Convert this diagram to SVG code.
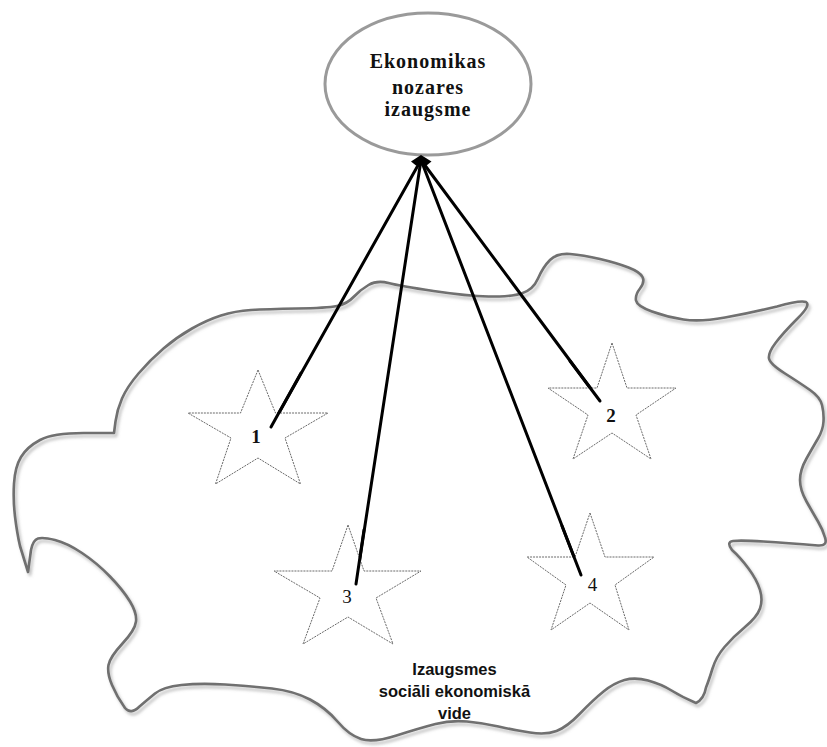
<svg xmlns="http://www.w3.org/2000/svg" width="827" height="747" viewBox="0 0 827 747">
  <style>
    .blob { fill: none; stroke: #6f6f6f; stroke-width: 2.6; stroke-linejoin: round; }
    .star { fill: #ffffff; stroke: #6a6a6a; stroke-width: 1; stroke-dasharray: 2 1; }
    .link { stroke: #000000; stroke-width: 3; fill: none; stroke-linecap: round; }
    .goal-text { font-family: "Liberation Serif", "Times New Roman", serif; font-weight: bold; font-size: 20px; letter-spacing: 1px; fill: #111111; text-anchor: middle; }
    .num-b { font-family: "Liberation Serif", "Times New Roman", serif; font-weight: bold; font-size: 19px; fill: #111111; text-anchor: middle; }
    .num { font-family: "Liberation Serif", "Times New Roman", serif; font-size: 19px; fill: #111111; text-anchor: middle; }
    .env-text { font-family: "Liberation Sans", Arial, sans-serif; font-weight: bold; font-size: 16.5px; fill: #111111; text-anchor: middle; }
  </style>
  <defs>
    <filter id="soft-shadow" x="-5%" y="-5%" width="110%" height="110%">
      <feDropShadow dx="2" dy="3" stdDeviation="1.6" flood-color="#8c8c8c" flood-opacity="0.55"/>
    </filter>
  </defs>

  <rect x="0" y="0" width="827" height="747" fill="#ffffff"/>

  <!-- surrounding environment outline -->
  <g id="environment">
    <path class="blob" filter="url(#soft-shadow)" d="
      M 114 433 L 115.5 421.5
      Q 117 410 122 398.5 Q 127 387 138.5 373.5 Q 150 360 163.5 348.5 Q 177 337 192 328.5
      Q 207 320 221 315.5 Q 235 311 251 310 Q 267 309 297 308.5 Q 327 308 337 306
      Q 347 304 353.5 297 Q 360 290 368.5 285 Q 377 280 388.5 283 Q 400 286 433.5 291
      Q 467 296 488.5 296.5 Q 510 297 521.5 293.5 Q 533 290 538 278.5 Q 543 267 550 260
      Q 557 253 570 254 Q 583 255 600 259 Q 617 263 628.5 267.5 Q 640 272 642.5 277
      Q 645 282 640 288.5 Q 635 295 636 300.5 Q 637 306 652 311.5 Q 667 317 683.5 319.5
      Q 700 322 725 317.5 Q 750 313 777 306.5
      Q 800 300 806 302 Q 811 305 798 318
      Q 783 333 775.5 343 Q 768 353 769 358.5 Q 770 364 785 373.5 Q 800 383 810 390
      Q 820 397 822 405 Q 824 413 823.5 421.5 Q 823 430 818 438.5 Q 813 447 806.5 458.5
      Q 800 470 800 480 Q 800 490 806.5 501.5 Q 813 513 818 521.5 Q 823 530 825 537.5
      Q 828 546 818 545.5
      Q 787 543 763.5 541.5 Q 740 540 733 541 Q 726 542 732 550
      Q 740 557 748.5 568.5 Q 757 580 760 590 Q 763 600 760 608.5 Q 757 617 745 627
      Q 733 637 724.5 647 Q 716 657 712.5 668.5 Q 709 680 706 687.5
      Q 704 699 696 703
      Q 682 697 671.5 690.5 Q 661 684 648 680.5 Q 635 677 624.5 680 Q 614 683 603.5 691.5
      Q 593 700 580 713.5 Q 567 727 556.5 731 Q 546 735 530 732.5 Q 514 730 498.5 726.5
      Q 483 723 467 721.5 Q 451 720 435.5 724 Q 420 728 396.5 735.5 Q 373 743 361 739
      Q 349 735 337.5 721.5 Q 326 708 310 699.5 Q 294 691 272 688.5 Q 250 686 225 684.5
      Q 200 683 181.5 685 Q 163 687 155 693.5 Q 147 700 139.5 706.5
      Q 131 715 125 708
      Q 117 697 112 685 Q 107 673 108.5 665 Q 110 657 122.5 643.5 Q 135 630 136 621.5
      Q 137 613 130 601.5 Q 123 590 110 576.5 Q 97 563 82 553 Q 67 543 55 540
      Q 43 537 38 538.5 Q 33 540 31 550 L 28 572 L 20 546
      Q 17 533 15 516.5 Q 13 500 14 483.5 Q 15 467 21 457 Q 27 447 40 440
      Q 53 433 83.5 433 Z"/>
  </g>

  <!-- connectors from the stars up to the goal -->
  <g id="connectors">
    <line class="link" x1="421" y1="160" x2="271" y2="427"/>
    <line class="link" x1="421" y1="160" x2="356" y2="584"/>
    <line class="link" x1="421" y1="160" x2="581" y2="575"/>
    <line class="link" x1="421" y1="160" x2="600" y2="401"/>
  </g>

  <!-- goal node -->
  <g id="goal">
    <ellipse cx="428" cy="84" rx="103" ry="71" fill="#ffffff" stroke="#9a9a9a" stroke-width="3"/>
    <text class="goal-text" x="428" y="68">Ekonomikas</text>
    <text class="goal-text" x="428" y="94">nozares</text>
    <text class="goal-text" x="428" y="116">izaugsme</text>
  </g>

  <!-- arrowhead where the connectors meet the goal -->
  <polygon points="421,155 431.5,161.5 426.5,165.5 416,165.5 411,161.5" fill="#000000"/>

  <g id="star-1">
    <polygon class="star" points="258,370 275.5,413 328,413 285,438 300.5,484 258,458 215.5,484 231,438 188,413 240.5,413"/>
    <text class="num-b" x="256" y="443">1</text>
  </g>
  <g id="star-2">
    <polygon class="star" points="612,343 627,388 676,388 636,415 651,459 612,433 573,459 588,415 548,388 597,388"/>
    <text class="num-b" x="611" y="422">2</text>
  </g>
  <g id="star-3">
    <polygon class="star" points="348,525 364,571 421,571 376,598 393,644 348,617 303,644 320,598 274,571 332,571"/>
    <text class="num" x="347" y="603">3</text>
  </g>
  <g id="star-4">
    <polygon class="star" points="590,513 605,557 654,557 615,585 629,630 590,603 551,630 566,585 527,557 575,557"/>
    <text class="num" x="592.5" y="591">4</text>
  </g>

  <!-- redraw the connector tips over the star fills -->
  <g id="connector-tips">
    <line class="link" x1="301" y1="373" x2="271" y2="427"/>
    <line class="link" x1="364" y1="530" x2="356" y2="584"/>
    <line class="link" x1="562" y1="526" x2="581" y2="575"/>
    <line class="link" x1="570" y1="361" x2="600" y2="401"/>
  </g>

  <g id="environment-label">
    <text class="env-text" x="454.5" y="675">Izaugsmes</text>
    <text class="env-text" x="454.5" y="697">sociāli ekonomiskā</text>
    <text class="env-text" x="454.5" y="719">vide</text>
  </g>
</svg>
